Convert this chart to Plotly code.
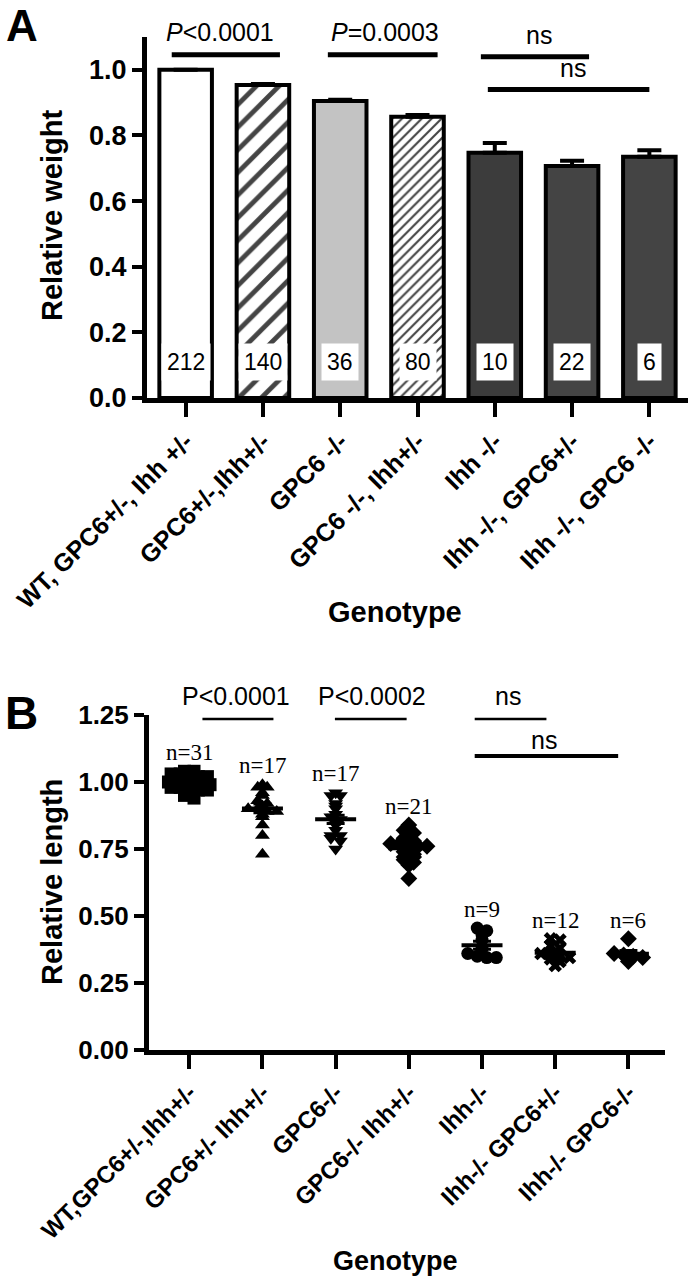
import numpy as np
import plotly.graph_objects as go

W, H = 691, 1279

# ---- panel A data ----
a_labels = ['WT, GPC6+/-, Ihh +/-', 'GPC6+/-,Ihh+/-', 'GPC6 -/-', 'GPC6 -/-, Ihh+/-',
            'Ihh -/-', 'Ihh -/-, GPC6+/-', 'Ihh -/-, GPC6 -/-']
a_weight = [1.0, 0.954, 0.905, 0.857, 0.747, 0.707, 0.735]
a_sem = [0.0, 0.003, 0.004, 0.005, 0.03, 0.016, 0.02]
a_n = [212, 140, 36, 80, 10, 22, 6]

# ---- panel B data ----
b_labels = ['WT,GPC6+/-,Ihh+/-', 'GPC6+/- Ihh+/-', 'GPC6-/-', 'GPC6-/- Ihh+/-',
            'Ihh-/-', 'Ihh-/- GPC6+/-', 'Ihh-/- GPC6-/-']
b_wt = [1.04, 1.04, 1.03, 1.03, 1.02, 1.02, 1.02, 1.01, 1.01, 1.01, 1.01, 1.00, 1.00, 1.00,
        1.00, 1.00, 1.00, 1.00, 0.99, 0.99, 0.99, 0.99, 0.99, 0.98, 0.98, 0.98, 0.97, 0.97,
        0.96, 0.95, 0.94]
b_gpc_het = [0.99, 0.98, 0.98, 0.96, 0.95, 0.93, 0.92, 0.91, 0.90, 0.90, 0.89, 0.89, 0.88,
             0.87, 0.84, 0.80, 0.73]
b_gpc_ko = [0.96, 0.95, 0.95, 0.92, 0.91, 0.90, 0.88, 0.87, 0.86, 0.85, 0.84, 0.82, 0.80,
            0.80, 0.79, 0.78, 0.75]
b_gpc_ko_ihh_het = [0.84, 0.82, 0.81, 0.80, 0.79, 0.78, 0.77, 0.77, 0.76, 0.76, 0.76, 0.75,
                    0.75, 0.74, 0.73, 0.72, 0.72, 0.71, 0.70, 0.69, 0.64]
b_ihh_ko = [0.455, 0.445, 0.43, 0.41, 0.38, 0.36, 0.35, 0.345, 0.345]
b_ihh_ko_gpc_het = [0.415, 0.41, 0.39, 0.38, 0.365, 0.36, 0.355, 0.35, 0.345, 0.34, 0.33, 0.315]
b_ihh_ko_gpc_ko = [0.415, 0.36, 0.355, 0.35, 0.345, 0.33]
b_groups = [b_wt, b_gpc_het, b_gpc_ko, b_gpc_ko_ihh_het, b_ihh_ko, b_ihh_ko_gpc_het, b_ihh_ko_gpc_ko]
b_symbols = ['square', 'triangle-up', 'triangle-down', 'diamond', 'circle', 'x', 'diamond']

# plot boxes in pixels (left, right, bottom, top)
A_BOX = (147, 688, 398, 37)
B_BOX = (149, 665, 1050, 715)
A_YMAX, B_YMAX = 1.1, 1.25


def px(x):
    return x / W


def py(y):
    return 1 - y / H


def a_py(v):
    # value on panel A y axis -> paper y (for text above the axis range)
    return py(A_BOX[2] - v / A_YMAX * (A_BOX[2] - A_BOX[3]))


def b_py(v):
    return py(B_BOX[2] - v / B_YMAX * (B_BOX[2] - B_BOX[3]))


def spread(vals, step=0.016, gap=0.13):
    # GraphPad-like horizontal spreading of points that share a value band
    vals = np.asarray(vals)
    bins = np.round(vals / step).astype(int)
    off = np.zeros(len(vals))
    for b in np.unique(bins):
        idx = np.where(bins == b)[0]
        k = len(idx)
        g = min(gap, 0.62 / k)
        off[idx] = (np.arange(k) - (k - 1) / 2) * g
    return off


fig = go.Figure()
FONT = 'Arial, Liberation Sans'
bold = dict(family=FONT, color='black', weight='bold')
plain = dict(family=FONT, color='black')

# ---- A bars ----
xa = list(range(len(a_labels)))
fig.add_trace(go.Bar(
    x=xa, y=a_weight, width=0.68, xaxis='x', yaxis='y',
    marker=dict(color=['white', 'white', '#c3c3c3', 'white', '#3c3c3c', '#444444', '#444444'],
                line=dict(color='black', width=4),
                pattern=dict(shape=['', '/', '', '/', '', '', ''],
                             size=[8, 16, 8, 7, 8, 8, 8],
                             solidity=[0.3, 0.3, 0.3, 0.3, 0.3, 0.3, 0.3],
                             fgcolor='black', fgopacity=1, fillmode='overlay')),
    error_y=dict(type='data', symmetric=False, array=a_sem, arrayminus=[0] * 7,
                 color='black', thickness=4, width=12),
    showlegend=False))
for i, n in enumerate(a_n):
    fig.add_annotation(x=i, y=0.11, xref='x', yref='y', text=str(n), showarrow=False,
                       bgcolor='white', borderpad=5, font=dict(plain, size=23))

# ---- B scatter ----
for i, vals in enumerate(b_groups):
    off = spread(vals)
    fig.add_trace(go.Scatter(
        x=i + off, y=vals, mode='markers', xaxis='x2', yaxis='y2',
        marker=dict(symbol=b_symbols[i], size=13 if b_symbols[i] != 'x' else 12,
                    color='black', line=dict(width=0)),
        showlegend=False))
    m = float(np.mean(vals))
    sem = float(np.std(vals, ddof=1) / np.sqrt(len(vals)))
    fig.add_trace(go.Scatter(
        x=[i - 0.28, i + 0.28], y=[m, m], mode='lines', xaxis='x2', yaxis='y2',
        line=dict(color='black', width=4), showlegend=False))
    fig.add_trace(go.Scatter(
        x=[i], y=[m], mode='markers', xaxis='x2', yaxis='y2', marker=dict(size=1, color='black'),
        error_y=dict(type='data', array=[sem], color='black', thickness=3, width=9),
        showlegend=False))
    fig.add_annotation(x=i, y=max(vals) + 0.07, xref='x2', yref='y2', text='n=%d' % len(vals),
                       showarrow=False, font=dict(family='Times New Roman, Liberation Serif',
                                                  size=23, color='black'))

# ---- significance bars ----
a_sig = [(-0.18, 1.22, 1.046, 0.44, 1.115, '<i>P</i>&lt;0.0001'),
         (1.84, 3.26, 1.046, 2.58, 1.115, '<i>P</i>=0.0003'),
         (3.82, 5.22, 1.04, 4.57, 1.105, 'ns'),
         (3.91, 6.0, 0.94, 5.01, 1.005, 'ns')]
for x0, x1, yl, xt, yt, t in a_sig:
    fig.add_shape(type='line', x0=x0, x1=x1, y0=yl, y1=yl, xref='x', yref='y',
                  line=dict(color='black', width=5))
    fig.add_annotation(x=xt, y=a_py(yt), xref='x', yref='paper', text=t, showarrow=False,
                       yanchor='middle', font=dict(plain, size=25))

b_sig = [(0.18, 1.15, 1.235, 0.64, 1.32, 'P&lt;0.0001', 2.5),
         (1.99, 2.97, 1.235, 2.5, 1.32, 'P&lt;0.0002', 2.5),
         (3.9, 4.88, 1.235, 4.36, 1.32, 'ns', 2.5),
         (3.9, 5.86, 1.097, 4.84, 1.155, 'ns', 4)]
for x0, x1, yl, xt, yt, t, w in b_sig:
    fig.add_shape(type='line', x0=x0, x1=x1, y0=yl, y1=yl, xref='x2', yref='y2',
                  line=dict(color='black', width=w))
    fig.add_annotation(x=xt, y=b_py(yt), xref='x2', yref='paper', text=t, showarrow=False,
                       yanchor='middle', font=dict(plain, size=25))

# ---- titles / panel letters ----
for txt, x, y, ang, size in [('Relative weight', 52, 216, -90, 29), ('Genotype', 395, 612, 0, 29),
                             ('Relative length', 52, 882, -90, 29), ('Genotype', 395, 1261, 0, 27),
                             ('B', 22, 713, 0, 46)]:
    fig.add_annotation(x=px(x), y=py(y), xref='paper', yref='paper', text=txt, textangle=ang,
                       showarrow=False, xanchor='center', yanchor='middle',
                       font=dict(bold, size=size))
fig.add_annotation(x=px(22), y=1, xref='paper', yref='paper', text='A', showarrow=False,
                   xanchor='center', yanchor='top', borderpad=0, font=dict(bold, size=44))

axis_common = dict(showline=True, linecolor='black', linewidth=5, ticks='outside',
                   tickcolor='black', tickwidth=4, showgrid=False, zeroline=False,
                   automargin=False)

fig.update_layout(
    width=W, height=H, margin=dict(l=0, r=0, t=0, b=0, autoexpand=False),
    plot_bgcolor='white', paper_bgcolor='white',
    xaxis=dict(axis_common, domain=[px(A_BOX[0]), px(A_BOX[1])], range=[-0.5, 6.5], anchor='y',
               tickvals=xa, ticktext=a_labels, tickangle=-45, ticklen=14,
               tickfont=dict(bold, size=25)),
    yaxis=dict(axis_common, domain=[py(A_BOX[2]), py(A_BOX[3])], range=[0, A_YMAX], anchor='x',
               tickvals=[0, 0.2, 0.4, 0.6, 0.8, 1.0], tickformat='.1f', ticklen=10,
               tickfont=dict(bold, size=27)),
    xaxis2=dict(axis_common, domain=[px(B_BOX[0]), px(B_BOX[1])], range=[-0.55, 6.5], anchor='y2',
                tickvals=xa, ticktext=b_labels, tickangle=-45, ticklen=14,
                tickfont=dict(bold, size=24)),
    yaxis2=dict(axis_common, domain=[py(B_BOX[2]), py(B_BOX[3])], range=[0, B_YMAX], anchor='x2',
                tickvals=[0, 0.25, 0.5, 0.75, 1.0, 1.25], tickformat='.2f', ticklen=10,
                tickfont=dict(bold, size=26)),
)

# the page body has a default 8px margin; drop it so the figure sits at the window corner
fig.write_html('out.html', config={'displayModeBar': False},
               post_script="document.body.style.margin='0px';")
